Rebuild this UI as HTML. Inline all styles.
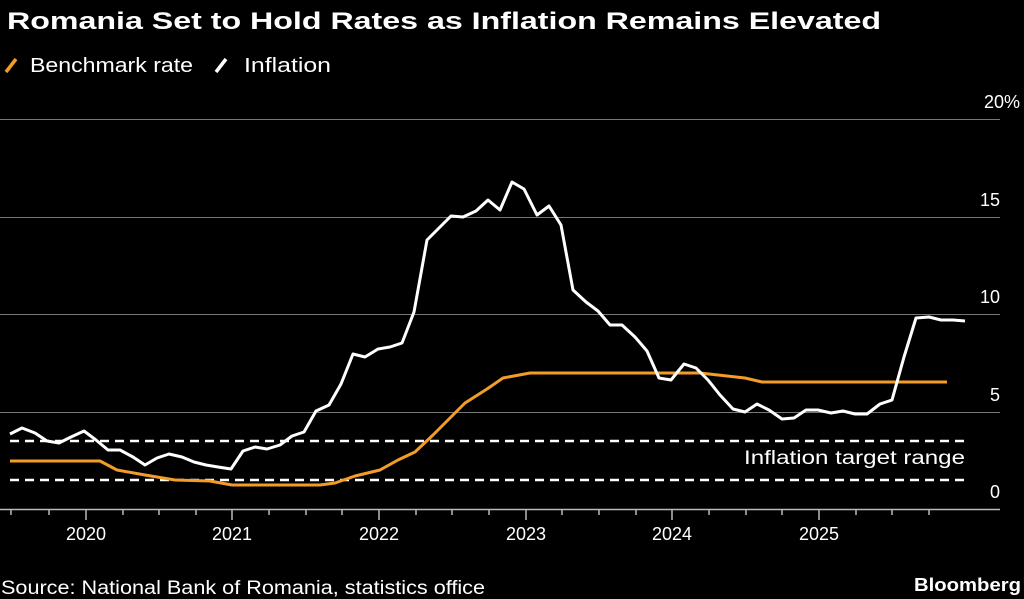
<!DOCTYPE html>
<html><head><meta charset="utf-8"><style>
html,body{margin:0;padding:0;background:#000;}
svg{display:block;font-family:"Liberation Sans",sans-serif;}
</style></head><body>
<svg width="1024" height="599" viewBox="0 0 1024 599">
<rect width="1024" height="599" fill="#000"/>
<text x="7" y="29" fill="#fff" font-size="24" font-weight="bold" textLength="874" lengthAdjust="spacingAndGlyphs">Romania Set to Hold Rates as Inflation Remains Elevated</text>
<line x1="6" y1="72" x2="16" y2="59" stroke="#f39c2a" stroke-width="3.5"/>
<text x="30" y="72" fill="#fff" font-size="20" textLength="163" lengthAdjust="spacingAndGlyphs">Benchmark rate</text>
<line x1="216" y1="72" x2="226" y2="59" stroke="#fff" stroke-width="3.5"/>
<text x="244" y="72" fill="#fff" font-size="20" textLength="87" lengthAdjust="spacingAndGlyphs">Inflation</text>
<g stroke="#777" stroke-width="1">
<line x1="0" y1="119.5" x2="1000" y2="119.5"/>
<line x1="0" y1="217.5" x2="1000" y2="217.5"/>
<line x1="0" y1="314.5" x2="1000" y2="314.5"/>
<line x1="0" y1="412.5" x2="1000" y2="412.5"/>
</g>
<g fill="#fff" font-size="18" text-anchor="end">
<text x="1020" y="108">20%</text>
<text x="1000" y="206">15</text>
<text x="1000" y="303">10</text>
<text x="1000" y="401">5</text>
<text x="1000" y="498">0</text>
</g>
<line x1="0" y1="509.5" x2="1000" y2="509.5" stroke="#bbb" stroke-width="1.5"/>
<g fill="#fff" font-size="18" text-anchor="middle">
<text x="86" y="540">2020</text>
<text x="232" y="540">2021</text>
<text x="379" y="540">2022</text>
<text x="526" y="540">2023</text>
<text x="672" y="540">2024</text>
<text x="819" y="540">2025</text>
</g>
<g stroke="#fff" stroke-width="2.5" stroke-dasharray="9,6">
<line x1="10" y1="441" x2="967" y2="441"/>
<line x1="10" y1="480" x2="967" y2="480"/>
</g>
<text x="965" y="464" fill="#fff" font-size="19" text-anchor="end" textLength="221" lengthAdjust="spacingAndGlyphs">Inflation target range</text>
<polyline fill="none" stroke="#f39c2a" stroke-width="3" stroke-linejoin="round" points="10,461 100,461 117,470 145,475 175,480 210,481 232,485 320,485 335,483 355,476 380,470 398,460 415,452 433,435 450,418 465,403 487,389 503,378 530,373 700,373 745,378 762,382 947,382"/>
<polyline fill="none" stroke="#fff" stroke-width="3" stroke-linejoin="round" points="10,434 22,428 35,433 47,441 59,443 71,437 84,431 96,440 108,450 120,450 133,457 145,465 157,458 169,454 182,457 194,462 206,465 218,467 231,469 243,451 255,447 267,449 280,445 292,436 304,432 316,411 329,405 341,384 353,354 365,357 378,349 390,347 402,343 414,312 427,240 439,228 451,216 463,217 476,211 488,200 500,210 512,182 524,189 537,215 549,206 561,225 573,290 586,302 598,311 610,325 622,325 635,337 647,351 659,378 671,380 684,364 696,368 708,380 720,395 733,409 745,412 757,404 769,410 782,419 794,418 806,410 818,410 831,413 843,411 855,414 867,414 880,404 892,400 904,357 916,318 929,317 941,320 953,320 965,321"/>
<g stroke="#bbb" stroke-width="1.5">
<line x1="11" y1="509" x2="11" y2="515"/><line x1="49" y1="509" x2="49" y2="515"/>
<line x1="86" y1="509" x2="86" y2="520"/><line x1="123" y1="509" x2="123" y2="515"/><line x1="159" y1="509" x2="159" y2="515"/><line x1="196" y1="509" x2="196" y2="515"/>
<line x1="232" y1="509" x2="232" y2="520"/><line x1="269" y1="509" x2="269" y2="515"/><line x1="306" y1="509" x2="306" y2="515"/><line x1="342" y1="509" x2="342" y2="515"/>
<line x1="379" y1="509" x2="379" y2="520"/><line x1="416" y1="509" x2="416" y2="515"/><line x1="452" y1="509" x2="452" y2="515"/><line x1="489" y1="509" x2="489" y2="515"/>
<line x1="526" y1="509" x2="526" y2="520"/><line x1="562" y1="509" x2="562" y2="515"/><line x1="599" y1="509" x2="599" y2="515"/><line x1="636" y1="509" x2="636" y2="515"/>
<line x1="672" y1="509" x2="672" y2="520"/><line x1="709" y1="509" x2="709" y2="515"/><line x1="746" y1="509" x2="746" y2="515"/><line x1="782" y1="509" x2="782" y2="515"/>
<line x1="819" y1="509" x2="819" y2="520"/><line x1="856" y1="509" x2="856" y2="515"/><line x1="892" y1="509" x2="892" y2="515"/><line x1="929" y1="509" x2="929" y2="515"/>
</g>
<text x="1" y="594" fill="#fff" font-size="19" textLength="484" lengthAdjust="spacingAndGlyphs">Source: National Bank of Romania, statistics office</text>
<text x="1021" y="591" fill="#fff" font-size="18" font-weight="bold" text-anchor="end" textLength="107" lengthAdjust="spacingAndGlyphs">Bloomberg</text>
</svg>
</body></html>
